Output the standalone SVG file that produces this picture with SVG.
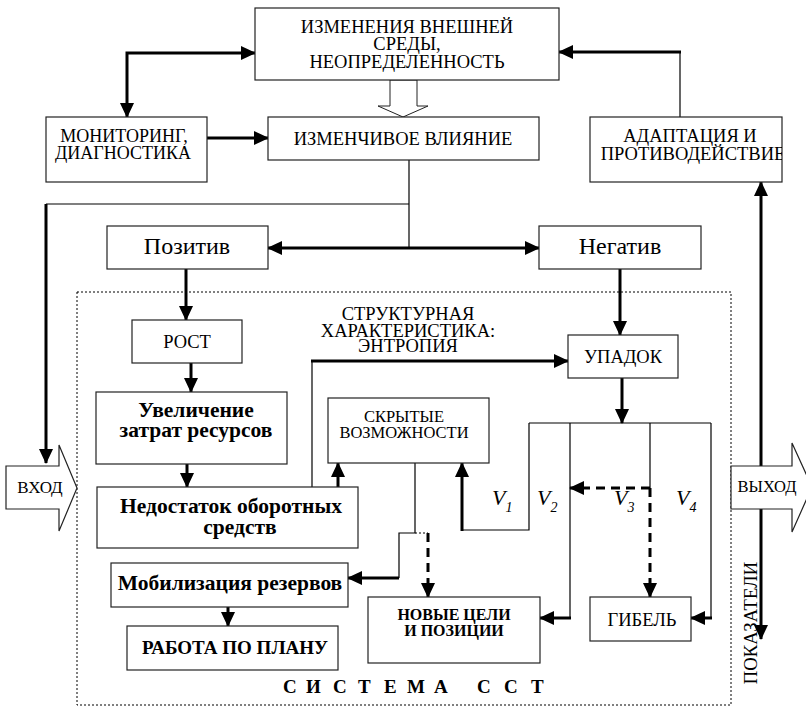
<svg xmlns="http://www.w3.org/2000/svg" width="806" height="706" viewBox="0 0 806 706">
<style>
.box{fill:#fff;stroke:#222;stroke-width:1.2}
.t{font-family:"Liberation Serif","Times New Roman","DejaVu Serif",serif;font-size:18.5px;fill:#000;text-anchor:middle}
.b{font-weight:bold}
.big{font-size:21.5px}
.thin{fill:none;stroke:#000;stroke-width:1.2}
.thick{fill:none;stroke:#000;stroke-width:3}
.dash{fill:none;stroke:#000;stroke-width:3;stroke-dasharray:9,6}
.dot{fill:none;stroke:#000;stroke-width:1;stroke-dasharray:2,2}
.v{font-family:"Liberation Serif","Times New Roman","DejaVu Serif",serif;font-style:italic;font-size:22px;fill:#000}
</style>
<defs>
<marker id="a" viewBox="0 0 15 14" refX="14" refY="7" markerWidth="15" markerHeight="14" markerUnits="userSpaceOnUse" orient="auto-start-reverse"><path d="M0,0L15,7L0,14z" fill="#000"/></marker>
<clipPath id="clipAd"><rect x="590" y="117" width="192" height="65"/></clipPath>
</defs>

<rect x="77" y="292" width="654" height="413" class="dot"/>

<g id="connectors">
<path class="thick" d="M127,117V53H255" marker-start="url(#a)" marker-end="url(#a)"/>
<path class="thick" d="M207,138H268" marker-end="url(#a)"/>
<polygon points="390,80 417,80 417,106 428,106 403,117 378,106 390,106" fill="#fff" stroke="#222" stroke-width="1"/>
<path class="thin" d="M409,160V248"/>
<path class="thin" d="M46,204H409"/>
<path class="thick" d="M46,204V463" marker-end="url(#a)"/>
<path class="thick" d="M268,248H539" marker-start="url(#a)" marker-end="url(#a)"/>
<path class="thick" d="M186,269V320" marker-end="url(#a)"/>
<path class="thick" d="M620,269V335" marker-end="url(#a)"/>
<path class="thin" d="M680,117V52"/>
<path class="thick" d="M681,52H559" marker-end="url(#a)"/>
<path class="thick" d="M761,182V639" marker-start="url(#a)" marker-end="url(#a)"/>
<path class="thick" d="M191,363V392" marker-end="url(#a)"/>
<path class="thick" d="M187,464V487" marker-end="url(#a)"/>
<path class="thick" d="M338,487V463" marker-end="url(#a)"/>
<path class="thin" d="M312,487V361"/>
<path class="thick" d="M311,361H568" marker-end="url(#a)"/>
<path class="thick" d="M228,607V626" marker-end="url(#a)"/>
<path class="thick" d="M622,378V423" marker-end="url(#a)"/>
<path class="thin" d="M529,423H711"/>
<path class="thin" d="M529,423V530H462"/>
<path class="thick" d="M462,531V463" marker-end="url(#a)"/>
<path class="thin" d="M570,423V618"/>
<path class="thick" d="M571,618H540" marker-end="url(#a)"/>
<path class="thin" d="M650,423V488"/>
<path class="dash" d="M650,488H570" marker-end="url(#a)"/>
<path class="dash" d="M650,488V597" marker-end="url(#a)"/>
<path class="thin" d="M711,423V618"/>
<path class="thick" d="M712,618H691" marker-end="url(#a)"/>
<path class="thin" d="M415,463V533H399V578"/>
<path class="dot" d="M415,533H428"/>
<path class="thick" d="M399,578H348" marker-end="url(#a)"/>
<path class="dash" d="M428,533V597" marker-end="url(#a)"/>
</g>

<g id="env">
<rect x="255" y="8" width="304" height="72" class="box"/>
<text class="t" x="407" y="33">ИЗМЕНЕНИЯ ВНЕШНЕЙ</text>
<text class="t" x="407" y="50">СРЕДЫ,</text>
<text class="t" x="407" y="68">НЕОПРЕДЕЛЕННОСТЬ</text>
</g>
<g id="monitoring">
<rect x="46" y="117" width="161" height="65" class="box"/>
<text class="t" x="124" y="142" style="font-size:18px">МОНИТОРИНГ,</text>
<text class="t" x="123" y="159" style="font-size:18px">ДИАГНОСТИКА</text>
</g>
<g id="influence">
<rect x="268" y="117" width="271" height="43" class="box"/>
<text class="t" x="403" y="145">ИЗМЕНЧИВОЕ ВЛИЯНИЕ</text>
</g>
<g id="adaptation">
<rect x="590" y="117" width="192" height="65" class="box"/>
<g clip-path="url(#clipAd)">
<text class="t" x="690" y="142">АДАПТАЦИЯ И</text>
<text class="t" x="693" y="160">ПРОТИВОДЕЙСТВИЕ</text>
</g>
</g>
<g id="positive">
<rect x="107" y="226" width="161" height="43" class="box"/>
<text class="t" x="187" y="254" style="font-size:24px">Позитив</text>
</g>
<g id="negative">
<rect x="539" y="226" width="162" height="43" class="box"/>
<text class="t" x="620" y="254" style="font-size:24px">Негатив</text>
</g>
<g id="growth">
<rect x="132" y="320" width="110" height="43" class="box"/>
<text class="t" x="187" y="348">РОСТ</text>
</g>
<g id="entropy-label">
<text class="t" x="408" y="320">СТРУКТУРНАЯ</text>
<text class="t" x="408" y="337">ХАРАКТЕРИСТИКА:</text>
<text class="t" x="408" y="352">ЭНТРОПИЯ</text>
</g>
<g id="decline">
<rect x="568" y="335" width="110" height="43" class="box"/>
<text class="t" x="623" y="363">УПАДОК</text>
</g>
<g id="costs">
<rect x="96" y="392" width="191" height="72" class="box"/>
<text class="t b big" x="196" y="417">Увеличение</text>
<text class="t b big" x="196" y="437">затрат ресурсов</text>
</g>
<g id="hidden">
<rect x="328" y="398" width="161" height="65" class="box"/>
<text class="t" x="404" y="422" style="font-size:16.5px">СКРЫТЫЕ</text>
<text class="t" x="404" y="438" style="font-size:16.5px">ВОЗМОЖНОСТИ</text>
</g>
<g id="shortage">
<rect x="97" y="487" width="261" height="61" class="box"/>
<text class="t b big" x="231" y="513">Недостаток оборотных</text>
<text class="t b big" x="240" y="534">средств</text>
</g>
<g id="mobilization">
<rect x="111" y="563" width="237" height="44" class="box"/>
<text class="t b big" x="230" y="590">Мобилизация резервов</text>
</g>
<g id="plan">
<rect x="127" y="626" width="211" height="44" class="box"/>
<text class="t b" x="235" y="654" style="font-size:19px">РАБОТА ПО ПЛАНУ</text>
</g>
<g id="newgoals">
<rect x="368" y="597" width="172" height="66" class="box"/>
<text class="t b" x="454" y="620" style="font-size:16px">НОВЫЕ ЦЕЛИ</text>
<text class="t b" x="454" y="636" style="font-size:16px">И ПОЗИЦИИ</text>
</g>
<g id="death">
<rect x="590" y="597" width="101" height="44" class="box"/>
<text class="t" x="642" y="626">ГИБЕЛЬ</text>
</g>
<g id="input">
<polygon points="6,466 59,466 59,445 77,488 59,531 59,509 6,509" class="box"/>
<text class="t" x="40" y="493" style="font-size:17px">ВХОД</text>
</g>
<g id="output">
<polygon points="731,466 792,466 792,443 812,487 792,532 792,509 731,509" class="box"/>
<text class="t" x="767" y="492" style="font-size:16.5px">ВЫХОД</text>
</g>
<g id="labels">
<text class="t" transform="translate(757,623) rotate(-90)" style="font-size:18.7px">ПОКАЗАТЕЛИ</text>
<text class="t b" x="283 306 333 358 384 407 434 477 504 531" y="693" style="text-anchor:start;font-size:19px">СИСТЕМАССТ</text>
<text class="v" x="492" y="505">V<tspan dy="7" font-size="14">1</tspan></text>
<text class="v" x="537" y="505">V<tspan dy="7" font-size="14">2</tspan></text>
<text class="v" x="614" y="505">V<tspan dy="7" font-size="14">3</tspan></text>
<text class="v" x="676" y="505">V<tspan dy="7" font-size="14">4</tspan></text>
</g>
</svg>
